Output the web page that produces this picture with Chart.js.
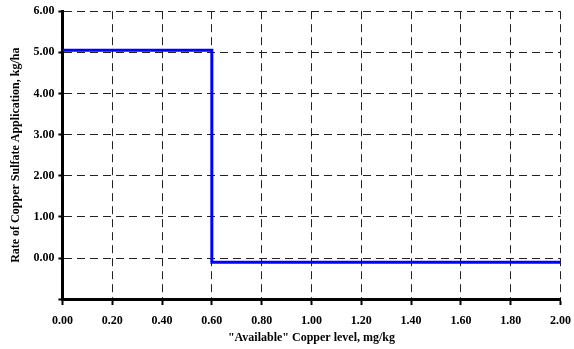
<!DOCTYPE html>
<html>
<head>
<meta charset="utf-8">
<script src="https://cdn.jsdelivr.net/npm/chart.js@4"></script>
<style>
  html, body { margin: 0; padding: 0; background: #fff; }
</style>
</head>
<body>
<canvas id="mycanvas" width="574" height="349"></canvas>
<script>
// copper level (mg/kg) and application rate (kg/ha), a step down at 0.60
var copperLevel = [0.00, 0.60, 0.60, 2.00];
var sulfateRate = [5.05, 5.05, -0.10, -0.10];

var xTitle = '"Available" Copper level, mg/kg';
var yTitle = 'Rate of Copper Sulfate Application, kg/ha';

var points = [];
for (var i in copperLevel) {
    points.push({ x: copperLevel[i], y: sulfateRate[i] });
}

var tickFont = { family: "'Liberation Serif', 'Times New Roman', serif", size: 12, weight: 'bold' };

var chartdata = {
    datasets: [
        {
            label: 'Rate',
            data: points,
            borderColor: '#0000ff',
            borderWidth: 3,
            pointRadius: 0,
            fill: false,
            tension: 0
        }
    ]
};

var ctx = document.getElementById('mycanvas');

var lineGraph = new Chart(ctx, {
    type: 'line',
    data: chartdata,
    options: {
        responsive: false,
        animation: false,
        layout: { padding: { top: 1, right: 0, left: 9, bottom: 0 } },
        plugins: {
            legend: { display: false },
            tooltip: { enabled: false }
        },
        scales: {
            x: {
                type: 'linear',
                min: 0,
                max: 2,
                ticks: {
                    stepSize: 0.2,
                    color: '#000',
                    font: tickFont,
                    padding: 3,
                    callback: function (v) { return v.toFixed(2); }
                },
                // long tick space, but only a short visible mark below the axis
                grid: { color: '#222', lineWidth: 1, tickLength: 12, tickColor: '#000', tickWidth: 2, tickBorderDash: [4, 40] },
                border: { display: true, color: '#000', width: 3, dash: [8, 5] },
                title: { display: true, text: xTitle, color: '#000', font: tickFont, padding: { top: -1, bottom: 4 } }
            },
            y: {
                min: -1,
                max: 6,
                ticks: {
                    stepSize: 1,
                    color: '#000',
                    font: tickFont,
                    padding: 4,
                    callback: function (v) { return v < 0 ? '' : v.toFixed(2); }
                },
                grid: { color: '#222', lineWidth: 1, tickLength: 4, tickColor: '#000', tickWidth: 2 },
                border: { display: true, color: '#000', width: 3, dash: [8, 5] },
                title: { display: true, text: yTitle, color: '#000', font: tickFont, padding: { top: 0, bottom: 6 } }
            }
        }
    }
});
</script>
</body>
</html>
